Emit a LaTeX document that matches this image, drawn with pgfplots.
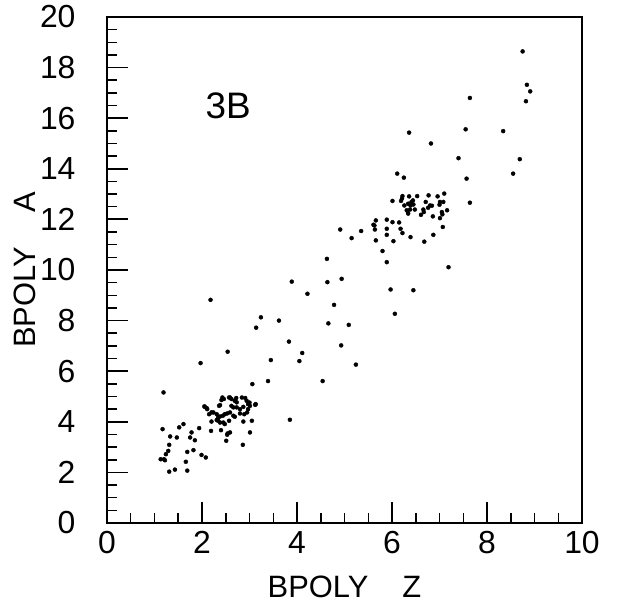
\documentclass[border=0pt]{standalone}
\usepackage{fontspec}
\setmainfont{Liberation Sans}
\usepackage{pgfplots}
\usepackage{pgfplotstable}
\pgfplotsset{compat=1.18}

% BPOLY Z (x) against BPOLY A (y)
\pgfplotstableread{
x y
8.75 18.64
8.84 17.32
8.91 17.06
8.82 16.67
7.64 16.80
7.55 15.56
8.34 15.49
8.69 14.38
8.55 13.81
7.57 13.61
7.64 12.66
6.36 15.43
6.82 15.00
7.40 14.42
6.11 13.81
6.25 13.65
6.01 12.73
6.22 12.92
6.21 12.82
6.19 12.73
6.36 12.91
6.53 12.92
6.77 12.95
6.96 12.91
7.10 13.02
6.26 12.55
6.34 12.62
6.41 12.69
6.45 12.59
6.44 12.75
6.39 12.55
6.71 12.69
6.80 12.55
6.76 12.46
6.84 12.54
7.00 12.58
7.01 12.69
7.08 12.69
6.38 12.39
6.33 12.32
6.31 12.36
6.48 12.39
6.34 12.23
6.66 12.39
6.67 12.29
6.61 12.18
6.86 12.12
7.05 12.29
7.06 12.20
7.16 12.36
7.01 12.05
5.66 11.96
5.61 11.79
5.63 11.76
5.89 11.99
6.01 11.89
6.15 11.88
5.64 11.60
5.89 11.63
6.18 11.63
6.22 11.46
7.07 11.70
5.89 11.39
5.35 11.54
5.15 11.26
4.91 11.60
5.66 11.17
6.03 11.14
6.39 11.30
6.68 11.12
6.87 11.39
5.80 10.75
5.89 10.31
7.19 10.11
5.97 9.23
6.45 9.20
6.06 8.27
4.63 10.44
2.18 8.82
3.89 9.54
4.64 9.52
4.94 9.65
4.22 9.06
4.78 8.62
3.24 8.13
3.62 8.00
3.14 7.72
4.66 7.89
5.09 7.83
3.83 7.17
4.93 7.02
2.54 6.77
4.11 6.72
3.45 6.44
4.05 6.40
5.24 6.26
1.97 6.32
3.39 5.61
3.06 5.49
4.54 5.61
1.19 5.16
2.05 4.61
2.10 4.54
2.38 4.66
2.41 4.86
2.46 4.90
2.59 4.96
2.62 4.90
2.69 4.83
2.73 4.77
2.72 4.94
2.84 4.96
2.91 4.94
2.94 4.83
2.97 4.70
3.01 4.63
3.13 4.70
2.62 4.63
2.66 4.57
2.87 4.59
2.80 4.50
2.15 4.30
2.20 4.37
2.31 4.30
2.34 4.17
2.38 4.21
2.44 4.24
2.48 4.30
2.53 4.33
2.59 4.37
2.66 4.24
2.69 4.20
2.89 4.30
2.95 4.37
2.97 4.50
2.20 4.01
2.34 4.04
2.38 3.97
2.48 3.91
2.57 4.04
2.87 4.01
3.05 4.04
3.85 4.08
2.06 4.59
2.11 4.50
2.24 4.37
2.36 4.63
2.43 4.96
2.57 4.96
3.00 4.76
3.12 4.67
2.73 4.57
2.80 4.33
2.31 4.07
2.45 3.97
1.17 3.71
1.52 3.78
1.61 3.91
1.78 3.58
1.94 3.75
2.19 3.64
2.40 3.67
2.54 3.54
2.59 3.58
2.53 3.49
3.01 3.58
1.33 3.42
1.47 3.38
1.75 3.38
1.85 3.27
2.51 3.25
2.86 3.09
1.31 3.09
1.29 2.85
1.69 2.81
1.82 2.88
1.99 2.69
2.08 2.59
1.24 2.72
1.20 2.52
1.13 2.52
1.22 2.48
1.66 2.42
1.31 2.03
1.43 2.11
1.69 2.07
}\bpolytable

\begin{document}
\begin{tikzpicture}
\begin{axis}[
  at={(0,0)}, anchor=south west,
  scale only axis, width=475bp, height=506bp,
  xmin=0, xmax=10, ymin=0, ymax=20,
  xtick={0,2,...,10}, ytick={0,2,...,20},
  minor x tick num=3, minor y tick num=3,
  tick align=inside, xtick pos=bottom, ytick pos=left,
  tickwidth=21bp, subtickwidth=10bp,
  axis line style={line width=2bp},
  every tick/.style={black},
  major tick style={line width=1.8bp},
  minor tick style={line width=1.5bp},
  tick label style={font=\fontsize{32}{32}\selectfont},
  /pgf/number format/assume math mode=true,
  xticklabel style={yshift=-5bp},
  yticklabel style={xshift=-28bp},
  xlabel={BPOLY\hspace{1.1em}Z},
  ylabel={BPOLY\hspace{1.1em}A},
  label style={font=\fontsize{31}{31}\selectfont},
  x label style={at={(axis description cs:0.5,-0.1265)}, anchor=center},
  y label style={at={(axis description cs:-0.1726,0.5)}, anchor=center},
]
\addplot[only marks, mark=*, mark size=2bp, black] table[x=x, y=y] {\bpolytable};
\node[font=\fontsize{37}{37}\selectfont] at (axis cs:2.55,16.5) {3B};
\end{axis}
\pgfresetboundingbox
\path[use as bounding box] (-107bp,-89bp) rectangle (522bp,523bp);
\end{tikzpicture}
\end{document}
